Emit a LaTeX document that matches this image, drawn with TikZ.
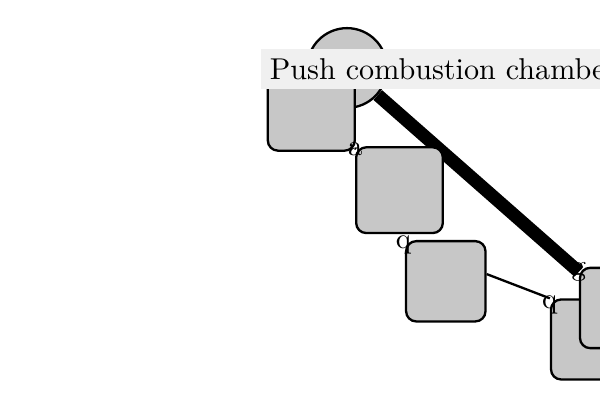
\documentclass[tikz,border=0pt]{standalone}
\tikzset{box node/.style={rectangle,rounded corners=3.5pt,fill=black!22,draw,thick,inner sep=0pt},
round node/.style={circle,fill=black!22,draw,thick,minimum size=27.5pt,inner sep=0pt},
tag/.style={inner sep=0pt},
title node/.style={fill=black!6,inner sep=3.2pt,anchor=west,font=\fontsize{10.4}{12}\selectfont},
}

\begin{document}
\begin{tikzpicture}[x=0.345pt,y=-0.345pt]
				\useasboundingbox (0,0) rectangle (600,400);
				\node[round node] (P) at (347,68) {};
				\node[box node,minimum width=27.6pt,minimum height=27.6pt] (E) at (591,339.5) {};
				\node[box node,minimum width=27.6pt,minimum height=27.7pt] (F) at (620,308) {};
				
				\path[draw,line width=4.5pt]
				(P) edge node[tag,at end] {g} (F);
				
				\node[box node,minimum width=30pt,minimum height=30pt] (A) at (311.3,107.2) {};
				\node[box node,minimum width=29.9pt,minimum height=29.6pt] (B) at (399.5,190.2) {};
				\node[box node,minimum width=27.4pt,minimum height=27.7pt] (C) at (445.8,281.3) {};
				\node[tag] (qC) at ([xshift=-0.5pt,yshift=-1.7pt]C.north west) {q};
				
				\path[draw,thick]
				(A) edge node[tag,midway] {a} (B)
				(C.10) edge node[tag,at end,yshift=-2.4pt] {q} (E.north west);
				
				\node[title node] (T) at (260,69.3) {Push combustion chamber};
			\end{tikzpicture}
\end{document}
